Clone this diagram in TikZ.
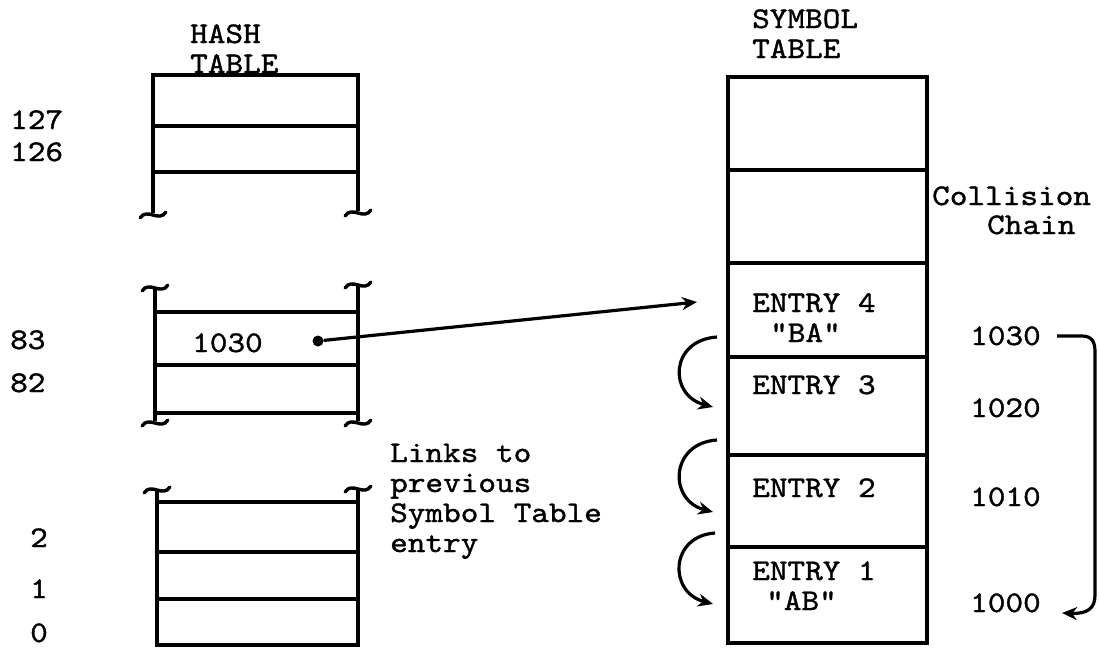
\documentclass[tikz,border=0pt]{standalone}
\usepackage{fontspec}
\setmonofont{lmmono10-regular.otf}[FakeStretch=1.12,FakeBold=1.2]
\usetikzlibrary{arrows.meta}
\begin{document}
\begin{tikzpicture}[x=1pt,y=-1pt,
  ln/.style={line width=3.4pt},
  lbl/.style={anchor=base west,inner sep=0pt,font=\fontsize{30}{30}\selectfont\ttfamily},
  arr/.style={line width=3.2pt,-{Stealth[length=15pt,width=13pt]}},
  squig/.pic={\draw[line width=3.4pt,line cap=round] (-13,3) .. controls (-6,-8) and (6,8) .. (13,-3);}
]
\useasboundingbox (0,0) rectangle (1100,649);
% ---------- hash table: top section
\draw[ln] (153,213) -- (153,75) -- (358,75) -- (358,211);
\draw[ln] (153,126) -- (358,126) (153,172) -- (358,172);
\pic at (153,215) {squig};
\pic at (358,213) {squig};
% ---------- hash table: middle section
\draw[ln] (155,288) -- (155,421) (358,285) -- (358,421);
\draw[ln] (155,312) -- (358,312) (155,365) -- (358,365) (155,413) -- (358,413);
\pic at (155,288) {squig};
\pic at (358,285) {squig};
\pic at (155,423) {squig};
\pic at (358,423) {squig};
% ---------- hash table: bottom section
\draw[ln] (157,490) -- (157,645) -- (358,645) -- (358,489);
\draw[ln] (157,502) -- (358,502) (157,552) -- (358,552) (157,599) -- (358,599);
\pic at (157,490) {squig};
\pic at (358,489) {squig};
% ---------- symbol table
\draw[ln] (728,77) rectangle (927,643);
\draw[ln] (728,170) -- (927,170) (728,263) -- (927,263) (728,357) -- (927,357)
          (728,455) -- (927,455) (728,547) -- (927,547);
% ---------- titles
\node[lbl] (hash1) at (190,43) {HASH};
\node[lbl] (hash2) at (190,73) {TABLE};
\node[lbl] (sym1) at (752,28) {SYMBOL};
\node[lbl] (sym2) at (752,58) {TABLE};
\node[lbl] (coll1) at (932,205) {Collision};
\node[lbl] (coll2) at (987,234) {Chain};
% ---------- hash indices
\node[lbl] (i127) at (10,129) {127};
\node[lbl] (i126) at (10,161) {126};
\node[lbl] (i83) at (10,349) {83};
\node[lbl] (i82) at (10,392) {82};
\node[lbl] (i2) at (30,547) {2};
\node[lbl] (i1) at (30,598) {1};
\node[lbl] (i0) at (30,642) {0};
\node[lbl] (h1030) at (192,352) {1030};
% ---------- links text
\node[lbl] (lk1) at (390,462) {Links to};
\node[lbl] (lk2) at (390,492) {previous};
\node[lbl] (lk3) at (390,522) {Symbol Table};
\node[lbl] (lk4) at (390,552) {entry};
% ---------- entries
\node[lbl] (e4) at (752,312) {ENTRY 4};
\node[lbl] (e4b) at (770,342) {"BA"};
\node[lbl] (e3) at (752,394) {ENTRY 3};
\node[lbl] (e2) at (752,497) {ENTRY 2};
\node[lbl] (e1) at (752,580) {ENTRY 1};
\node[lbl] (e1b) at (766,610) {"AB"};
% ---------- addresses
\node[lbl] (a1030) at (970,345) {1030};
\node[lbl] (a1020) at (970,417) {1020};
\node[lbl] (a1010) at (970,506) {1010};
\node[lbl] (a1000) at (970,612) {1000};
% ---------- pointer from hash slot 83
\node[circle,fill,inner sep=0pt,minimum size=11pt] (dot) at (318,341) {};
\coordinate (tgt) at (697,302);
\draw[arr] (dot) -- (tgt);
% ---------- links to previous entries
\coordinate (l3s) at (717,337); \coordinate (l3e) at (713,407);
\coordinate (l2s) at (717,440); \coordinate (l2e) at (713,512);
\coordinate (l1s) at (715,533); \coordinate (l1e) at (713,604);
\draw[arr] (l3s) .. controls (670,340) and (668,395) .. (l3e);
\draw[arr] (l2s) .. controls (670,443) and (668,500) .. (l2e);
\draw[arr] (l1s) .. controls (670,536) and (668,592) .. (l1e);
% ---------- collision chain
\coordinate (cs) at (1057,336);
\coordinate (ce) at (1062,613);
\draw[arr] (cs) -- (1082,336) .. controls (1092,336) and (1095,342) .. (1095,352)
   -- (1095,595) .. controls (1095,608) and (1088,614) .. (ce);
\end{tikzpicture}
\end{document}
